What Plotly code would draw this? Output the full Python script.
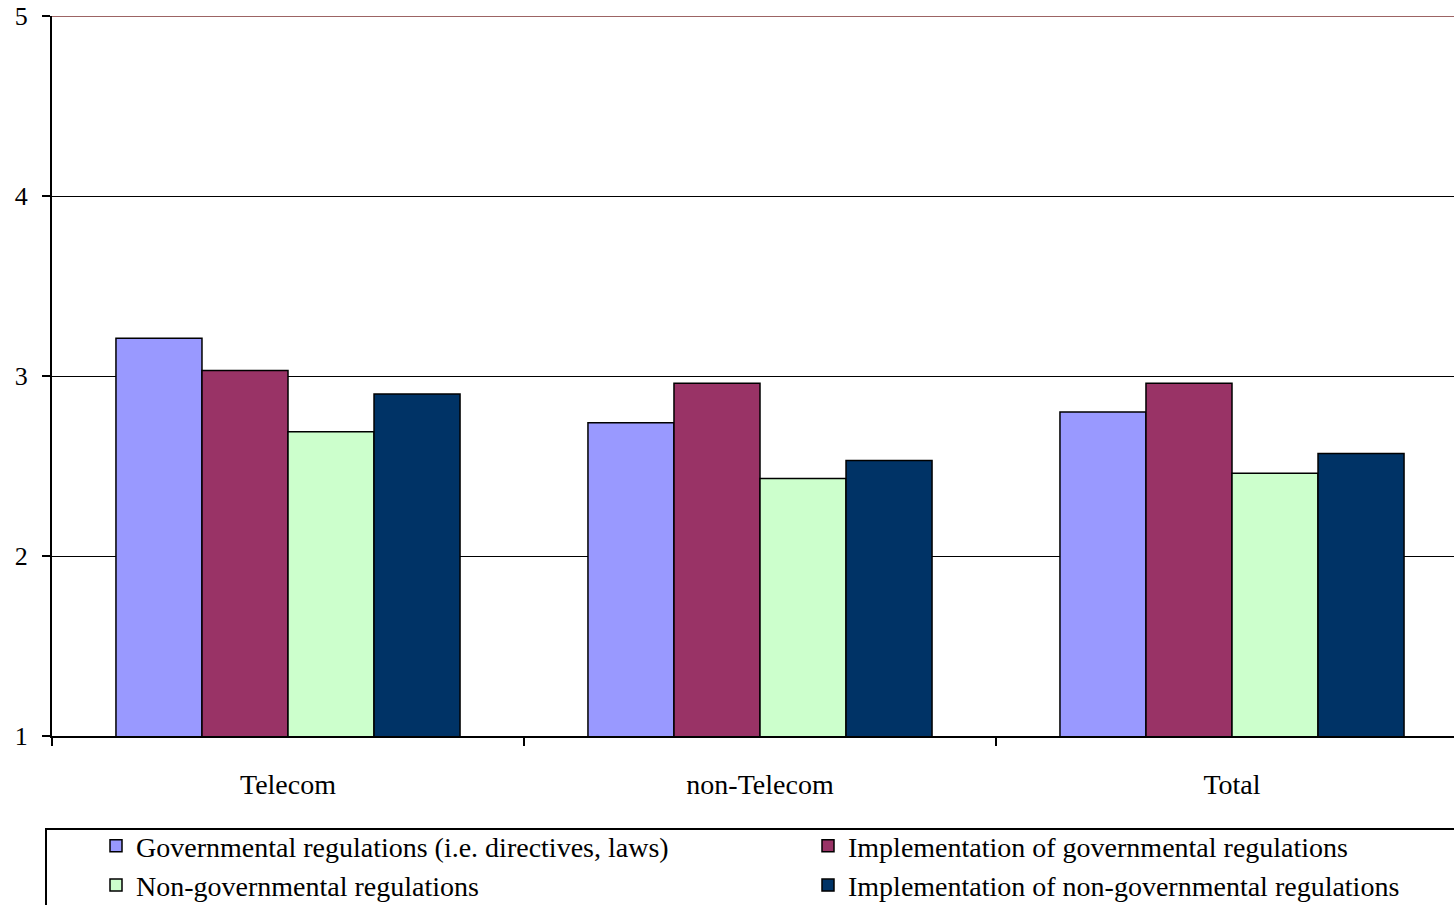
import plotly.graph_objects as go

# Mean scores per sector for each type of regulation
categories = ["Telecom", "non-Telecom", "Total"]
series_names = [
    "Governmental regulations (i.e. directives, laws)",
    "Implementation of governmental regulations",
    "Non-governmental regulations",
    "Implementation of non-governmental regulations",
]
gov_regulations = [3.21, 2.74, 2.80]
impl_gov_regulations = [3.03, 2.96, 2.96]
non_gov_regulations = [2.69, 2.43, 2.46]
impl_non_gov_regulations = [2.90, 2.53, 2.57]
y_ticks = [1, 2, 3, 4, 5]

series_values = [gov_regulations, impl_gov_regulations,
                 non_gov_regulations, impl_non_gov_regulations]
colors = ["#9999FF", "#993366", "#CCFFCC", "#003366"]
legend_ids = ["legend", "legend2", "legend", "legend2"]

FONT = "Liberation Serif, Times New Roman, serif"

fig = go.Figure()
for name, vals, col, lg in zip(series_names, series_values, colors, legend_ids):
    fig.add_trace(go.Bar(
        x=categories, y=vals, name=name,
        marker=dict(color=col, line=dict(color="black", width=1.5)),
        legend=lg,
    ))

W, H = 1454, 905
ml, mr, mt, mb = 52, 0, 16, 169
pw, ph = W - ml - mr, H - mt - mb


def px_to_paper_x(px):
    return (px - ml) / pw


def px_to_paper_y(py):
    return (H - mb - py) / ph


legend_common = dict(
    font=dict(family=FONT, size=28, color="black"),
    bgcolor="rgba(0,0,0,0)", borderwidth=0,
    xref="container", yref="container",
    xanchor="left", yanchor="top", orientation="v",
    itemclick=False, itemdoubleclick=False,
)

legend_top = 1 - 821 / H

fig.update_layout(
    width=W, height=H,
    margin=dict(l=ml, r=mr, t=mt, b=mb, pad=0, autoexpand=False),
    paper_bgcolor="white", plot_bgcolor="white",
    barmode="group", bargap=0.271, bargroupgap=0,
    font=dict(family=FONT, color="black"),
    legend=dict(x=96 / W, y=legend_top, **legend_common),
    legend2=dict(x=808 / W, y=legend_top, **legend_common),
    xaxis=dict(
        type="category", range=[-0.5, 2.5 - 14 / 472],
        tickson="boundaries", ticks="outside", ticklen=8, tickwidth=2,
        tickcolor="black", showline=True, linecolor="black", linewidth=2,
        showgrid=False, tickfont=dict(family=FONT, size=28, color="black"),
        ticklabelstandoff=22,
    ),
    yaxis=dict(
        range=[1, 5], tickvals=y_ticks, ticks="outside", ticklen=8,
        tickwidth=2, tickcolor="black", showline=True, linecolor="black",
        linewidth=2, showgrid=True, gridcolor="black", gridwidth=1,
        zeroline=False, tickfont=dict(family=FONT, size=26, color="black"),
        ticklabelstandoff=9,
    ),
    shapes=[
        # top border of the plot area
        dict(type="line", xref="paper", yref="y", x0=0, x1=1, y0=5, y1=5,
             line=dict(color="#9c6464", width=2), layer="above"),
        # frame around the legend
        dict(type="rect", xref="paper", yref="paper",
             x0=px_to_paper_x(46), x1=1.2,
             y0=px_to_paper_y(829), y1=px_to_paper_y(1000),
             line=dict(color="black", width=2), fillcolor="rgba(0,0,0,0)"),
    ],
)

fig.write_html("out.html")
